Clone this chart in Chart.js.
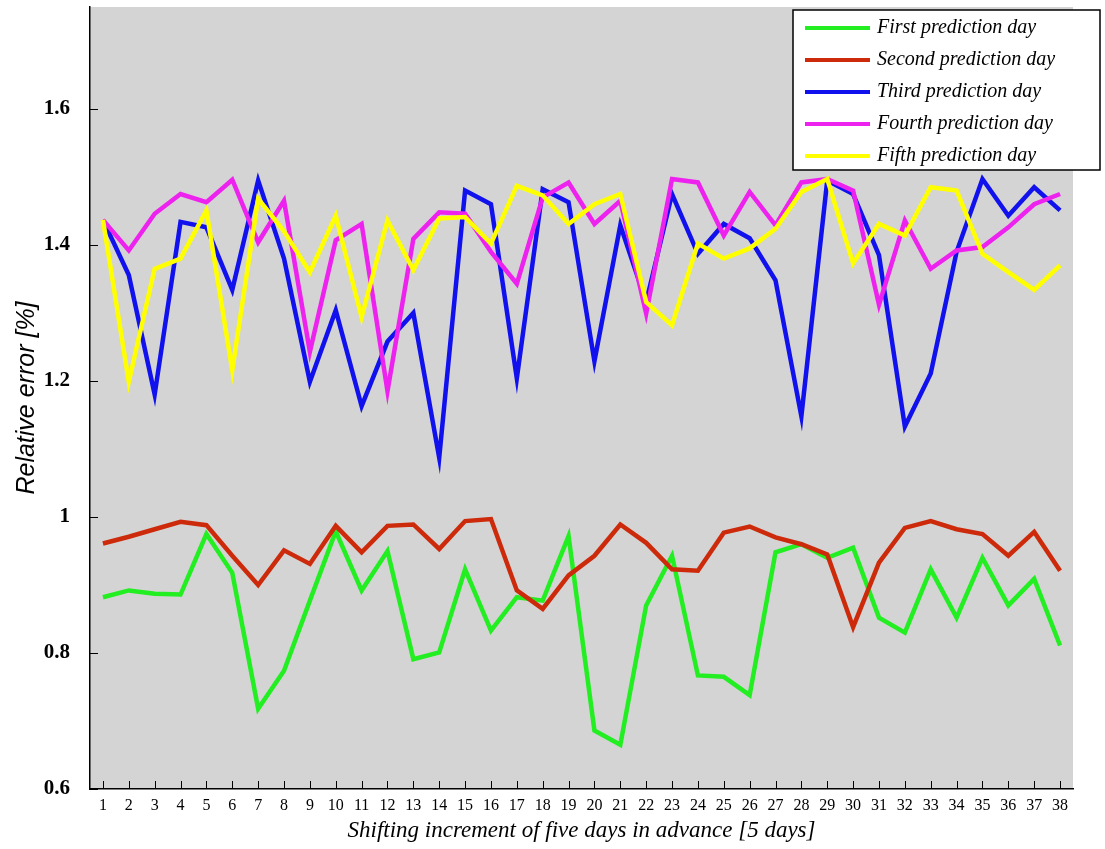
<!DOCTYPE html>
<html>
<head>
<meta charset="utf-8">
<title>Relative error per prediction day</title>
<script src="https://cdn.jsdelivr.net/npm/chart.js@4.4.1/dist/chart.umd.min.js"></script>
<style>
  html, body { margin: 0; padding: 0; background: #ffffff; }
  #chart { display: block; }
</style>
</head>
<body>
<canvas id="chart" width="1105" height="849"></canvas>
<script>
// x positions (shift number) and tick values
const shifts = [1,2,3,4,5,6,7,8,9,10,11,12,13,14,15,16,17,18,19,20,21,22,23,24,25,26,27,28,29,30,31,32,33,34,35,36,37,38];
const yTicks = [0.6, 0.8, 1.0, 1.2, 1.4, 1.6];

const seriesNames = ['First prediction day', 'Second prediction day', 'Third prediction day', 'Fourth prediction day', 'Fifth prediction day'];
const seriesColors = ['#22ee22', '#cc2a0a', '#1111ee', '#ee22ee', '#ffff00'];

// relative error values
const firstDay = [0.882,0.892,0.887,0.886,0.975,0.918,0.718,0.774,0.877,0.979,0.892,0.950,0.791,
  0.801,0.923,0.833,0.882,0.877,0.972,0.686,0.665,0.870,0.943,0.767,0.765,0.738,
  0.948,0.960,0.940,0.955,0.852,0.830,0.923,0.852,0.940,0.870,0.909,0.811];
const secondDay = [0.961,0.971,0.982,0.993,0.988,0.943,0.900,0.951,0.931,0.987,0.948,0.987,0.989,
  0.953,0.994,0.997,0.892,0.865,0.914,0.943,0.989,0.962,0.923,0.921,0.977,0.986,
  0.970,0.960,0.945,0.838,0.933,0.984,0.994,0.982,0.975,0.943,0.978,0.921];
const thirdDay = [1.437,1.356,1.180,1.434,1.426,1.334,1.495,1.380,1.199,1.304,1.163,1.258,1.300,
  1.087,1.480,1.460,1.204,1.482,1.463,1.229,1.429,1.316,1.475,1.387,1.431,1.410,
  1.348,1.148,1.495,1.475,1.385,1.133,1.211,1.390,1.497,1.443,1.485,1.451];
const fourthDay = [1.437,1.392,1.446,1.475,1.463,1.496,1.404,1.465,1.243,1.407,1.431,1.185,1.409,
  1.448,1.446,1.390,1.343,1.470,1.492,1.431,1.465,1.299,1.497,1.492,1.414,1.478,
  1.429,1.492,1.497,1.480,1.312,1.436,1.365,1.392,1.397,1.426,1.460,1.475];
const fifthDay = [1.437,1.199,1.365,1.380,1.451,1.216,1.468,1.420,1.360,1.443,1.294,1.436,1.363,
  1.439,1.441,1.402,1.487,1.473,1.431,1.460,1.475,1.316,1.282,1.402,1.380,1.395,
  1.424,1.478,1.497,1.373,1.431,1.414,1.485,1.480,1.387,1.360,1.334,1.370];

const allSeries = [firstDay, secondDay, thirdDay, fourthDay, fifthDay];

// gray plot background
const plotBackground = {
    id: 'plotBackground',
    beforeDraw(chart) {
        const { ctx, chartArea: a } = chart;
        ctx.save();
        ctx.fillStyle = '#d4d4d4';
        ctx.fillRect(a.left, a.top, a.right - a.left, a.bottom - a.top);
        ctx.restore();
    }
};

// tick marks pointing into the plot
const innerTicks = {
    id: 'innerTicks',
    afterDatasetsDraw(chart) {
        const { ctx, chartArea: a, scales } = chart;
        ctx.save();
        ctx.strokeStyle = '#000';
        ctx.lineWidth = 1;
        scales.x.ticks.forEach(t => {
            const px = Math.round(scales.x.getPixelForValue(t.value)) + 0.5;
            ctx.beginPath();
            ctx.moveTo(px, a.bottom);
            ctx.lineTo(px, a.bottom - 8);
            ctx.stroke();
        });
        scales.y.ticks.forEach(t => {
            const py = Math.round(scales.y.getPixelForValue(t.value)) + 0.5;
            ctx.beginPath();
            ctx.moveTo(a.left, py);
            ctx.lineTo(a.left + 8, py);
            ctx.stroke();
        });
        ctx.restore();
    }
};

// boxed legend in the top right corner
const boxLegend = {
    id: 'boxLegend',
    afterDraw(chart) {
        const ctx = chart.ctx;
        const left = 793, top = 10, width = 307, height = 160;
        ctx.save();
        ctx.fillStyle = '#ffffff';
        ctx.fillRect(left, top, width, height);
        ctx.strokeStyle = '#000';
        ctx.lineWidth = 1.5;
        ctx.strokeRect(left, top, width, height);
        ctx.font = 'italic 20px "Liberation Serif", "DejaVu Serif", serif';
        ctx.textBaseline = 'middle';
        chart.data.datasets.forEach((ds, i) => {
            const y = top + 18 + i * 32;
            ctx.strokeStyle = ds.borderColor;
            ctx.lineWidth = 4;
            ctx.beginPath();
            ctx.moveTo(805, y);
            ctx.lineTo(870, y);
            ctx.stroke();
            ctx.fillStyle = '#000';
            ctx.fillText(ds.label, 877, y);
        });
        ctx.restore();
    }
};

const datasets = seriesNames.map((name, i) => ({
    label: name,
    data: allSeries[i].map((v, k) => ({ x: shifts[k], y: v })),
    borderColor: seriesColors[i],
    backgroundColor: seriesColors[i],
    borderWidth: 4.5,
    pointRadius: 0,
    tension: 0,
    fill: false,
    order: seriesNames.length - i
}));

new Chart(document.getElementById('chart'), {
    type: 'line',
    data: { datasets: datasets },
    options: {
        responsive: false,
        animation: false,
        layout: { padding: { top: 7, right: 32, left: 0, bottom: 0 } },
        plugins: {
            legend: { display: false },
            tooltip: { enabled: false }
        },
        scales: {
            x: {
                type: 'linear',
                min: 0.5,
                max: 38.5,
                afterBuildTicks: axis => { axis.ticks = shifts.map(v => ({ value: v })); },
                afterFit: axis => {
                    axis.height = 60;
                    axis.paddingLeft = 0;
                    axis.paddingRight = 0;
                },
                grid: { drawOnChartArea: false, drawTicks: false },
                border: { display: true, color: '#000', width: 1.5 },
                ticks: {
                    autoSkip: false,
                    maxRotation: 0,
                    padding: 7,
                    color: '#000',
                    font: { family: '"Liberation Serif", "DejaVu Serif", serif', size: 16 }
                },
                title: {
                    display: true,
                    text: 'Shifting increment of five days in advance [5 days]',
                    color: '#000',
                    padding: { top: 0, bottom: 4 },
                    font: { family: '"Liberation Serif", "DejaVu Serif", serif', size: 23, style: 'italic' }
                }
            },
            y: {
                min: 0.6,
                max: 1.75,
                afterBuildTicks: axis => { axis.ticks = yTicks.map(v => ({ value: v })); },
                afterFit: axis => {
                    axis.width = 90;
                    axis.paddingTop = 0;
                    axis.paddingBottom = 0;
                },
                grid: { drawOnChartArea: false, drawTicks: false },
                border: { display: true, color: '#000', width: 1.5 },
                ticks: {
                    padding: 20,
                    color: '#000',
                    callback: v => String(Math.round(v * 10) / 10),
                    font: { family: '"Liberation Serif", "DejaVu Serif", serif', size: 21, weight: 'bold' }
                },
                title: {
                    display: true,
                    text: 'Relative error [%]',
                    color: '#000',
                    padding: { top: 12, bottom: 0 },
                    font: { family: '"Liberation Sans Narrow", "Liberation Sans", sans-serif', size: 25, style: 'italic' }
                }
            }
        }
    },
    plugins: [plotBackground, innerTicks, boxLegend]
});
</script>
</body>
</html>
